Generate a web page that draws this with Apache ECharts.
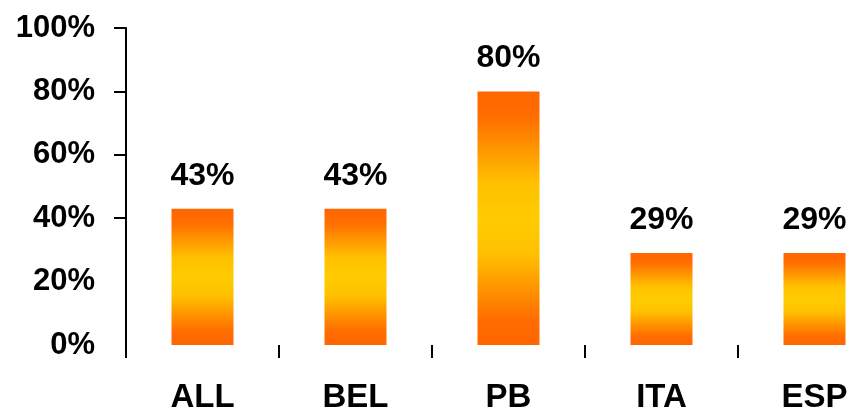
<!DOCTYPE html>
<html>
<head>
<meta charset="utf-8">
<script src="https://cdn.jsdelivr.net/npm/echarts@6/dist/echarts.min.js"></script>
<style>
  html, body { margin: 0; padding: 0; background: #ffffff; }
  #chart { width: 850px; height: 411px; }
</style>
</head>
<body>
<div id="chart"></div>
<script>
// Share per group, in percent
const categories = ['ALL', 'BEL', 'PB', 'ITA', 'ESP'];
const shares = [43, 43, 80, 29, 29];
const yTicks = [0, 20, 40, 60, 80, 100];

const FONT = '"Liberation Sans", Arial, sans-serif';

// Orange-yellow-orange vertical fill for the bars
const barFill = new echarts.graphic.LinearGradient(0, 0, 0, 1, [
  { offset: 0.0, color: '#ff6600' },
  { offset: 0.1, color: '#ff6d00' },
  { offset: 0.36, color: '#ffc000' },
  { offset: 0.5, color: '#ffcc00' },
  { offset: 0.64, color: '#ffc000' },
  { offset: 0.9, color: '#ff6d00' },
  { offset: 1.0, color: '#ff6600' }
]);

const chart = echarts.init(document.getElementById('chart'), null, { renderer: 'canvas' });
chart.setOption({
  animation: false,
  backgroundColor: '#ffffff',
  grid: {
    left: 126, top: 28, bottom: 66, width: 765,
    containLabel: false,
    outerBoundsMode: 'none'
  },
  xAxis: {
    type: 'category',
    data: categories,
    boundaryGap: true,
    axisLine: { show: false },
    axisTick: { show: true, length: 13, lineStyle: { color: '#000', width: 2 } },
    axisLabel: {
      margin: 36,
      color: '#000',
      fontFamily: FONT,
      fontWeight: 'bold',
      fontSize: 33
    },
    splitLine: { show: false }
  },
  yAxis: {
    type: 'value',
    min: yTicks[0],
    max: yTicks[yTicks.length - 1],
    interval: 20,
    axisLine: { show: true, lineStyle: { color: '#000', width: 2 } },
    axisTick: {
      show: true,
      length: 12,
      customValues: yTicks.filter(v => v >= 40),
      lineStyle: { color: '#000', width: 2 }
    },
    axisLabel: {
      margin: 31,
      color: '#000',
      fontFamily: FONT,
      fontWeight: 'bold',
      fontSize: 31,
      formatter: '{value}%'
    },
    splitLine: { show: false }
  },
  series: [{
    type: 'bar',
    data: shares,
    barWidth: 62,
    itemStyle: { color: barFill },
    label: {
      show: true,
      position: 'top',
      distance: 17,
      color: '#000',
      fontFamily: FONT,
      fontWeight: 'bold',
      fontSize: 32,
      formatter: '{c}%'
    }
  }]
});
</script>
</body>
</html>
